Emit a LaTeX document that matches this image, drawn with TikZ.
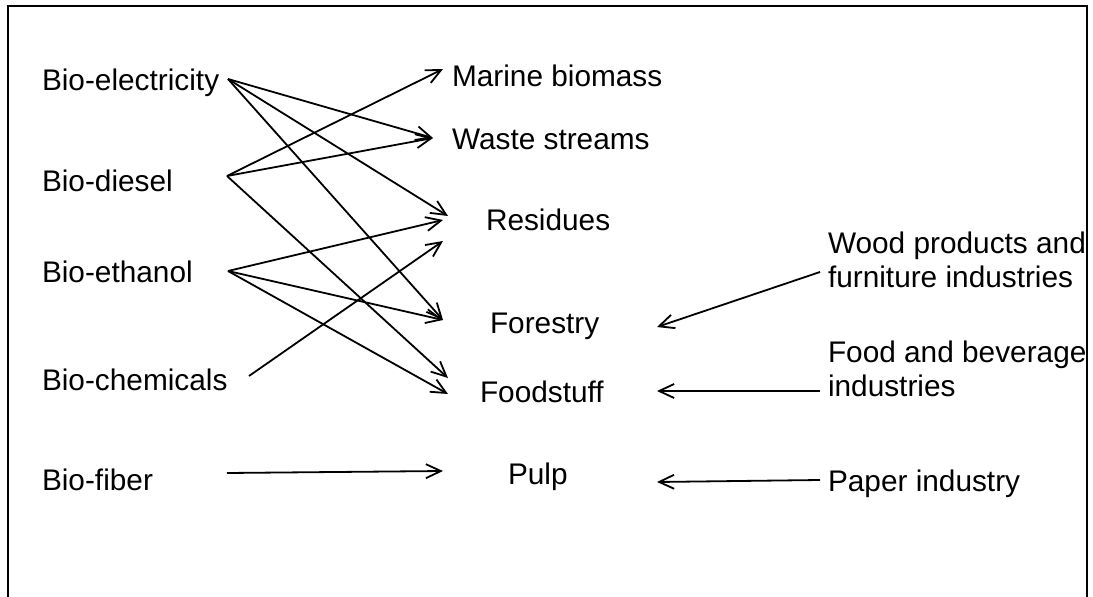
\documentclass[tikz,border=0pt]{standalone}
\usepackage{fontspec}
\setmainfont{Liberation Sans}
\usetikzlibrary{arrows.meta}
\tikzset{
  lbl/.style={inner sep=0pt, outer sep=0pt, font=\fontsize{29.8}{34}\selectfont, align=left},
  conn/.style={line width=1.8pt, -{Straight Barb[length=15pt,width=14pt,line width=1.8pt]}},
  frame/.style={line width=2.2pt}
}
\begin{document}
\begin{tikzpicture}[x=1pt,y=-1pt]
\useasboundingbox (0,0) rectangle (1093,597);
\draw[frame] (8,597) -- (8,6) -- (1087,6) -- (1087,597);
% sources
\node[lbl, anchor=base west] (bel) at (42,90) {Bio-electricity};
\node[lbl, anchor=base west] (bdi) at (42,191) {Bio-diesel};
\node[lbl, anchor=base west] (bet) at (42,282) {Bio-ethanol};
\node[lbl, anchor=base west] (bch) at (42,390) {Bio-chemicals};
\node[lbl, anchor=base west] (bfi) at (42,490) {Bio-fiber};
% targets
\node[lbl, anchor=base west] (mar) at (452,86) {Marine biomass};
\node[lbl, anchor=base west] (was) at (452,149) {Waste streams};
\node[lbl, anchor=base west] (res) at (486,230) {Residues};
\node[lbl, anchor=base west] (for) at (490,333) {Forestry};
\node[lbl, anchor=base west] (foo) at (480,402) {Foodstuff};
\node[lbl, anchor=base west] (pul) at (508,484) {Pulp};
% industries
\node[lbl, anchor=north west] (wood) at (828,232) {Wood products and\\furniture industries};
\node[lbl, anchor=north west] (food) at (828,341) {Food and beverage\\industries};
\node[lbl, anchor=base west] (paper) at (828,491) {Paper industry};
% ports
\coordinate (bel-o) at (228,79);
\coordinate (bdi-o) at (227,176);
\coordinate (bet-o) at (228,271);
\coordinate (bch-o) at (249,376);
\coordinate (bfi-o) at (227,473);
\coordinate (mar-i) at (443,69);
\coordinate (was-i) at (433,138);
\coordinate (res-i1) at (448,216);
\coordinate (res-i2) at (443,220);
\coordinate (res-i3) at (443,241);
\coordinate (for-i) at (443,320);
\coordinate (foo-i1) at (448,378);
\coordinate (foo-i2) at (448,394);
\coordinate (pul-i) at (443,471);
\coordinate (for-r) at (657,327);
\coordinate (foo-r) at (657,391);
\coordinate (pul-r) at (657,482);
\coordinate (wood-o) at (820,272);
\coordinate (food-o) at (820,391);
\coordinate (paper-o) at (820,480);
% connectors
\draw[conn] (bel-o) -- (was-i);
\draw[conn] (bel-o) -- (res-i1);
\draw[conn] (bel-o) -- (for-i);
\draw[conn] (bdi-o) -- (mar-i);
\draw[conn] (bdi-o) -- (was-i);
\draw[conn] (bdi-o) -- (foo-i1);
\draw[conn] (bet-o) -- (res-i2);
\draw[conn] (bet-o) -- (for-i);
\draw[conn] (bet-o) -- (foo-i2);
\draw[conn] (bch-o) -- (res-i3);
\draw[conn] (bfi-o) -- (pul-i);
\draw[conn] (wood-o) -- (for-r);
\draw[conn] (food-o) -- (foo-r);
\draw[conn] (paper-o) -- (pul-r);
\end{tikzpicture}
\end{document}
